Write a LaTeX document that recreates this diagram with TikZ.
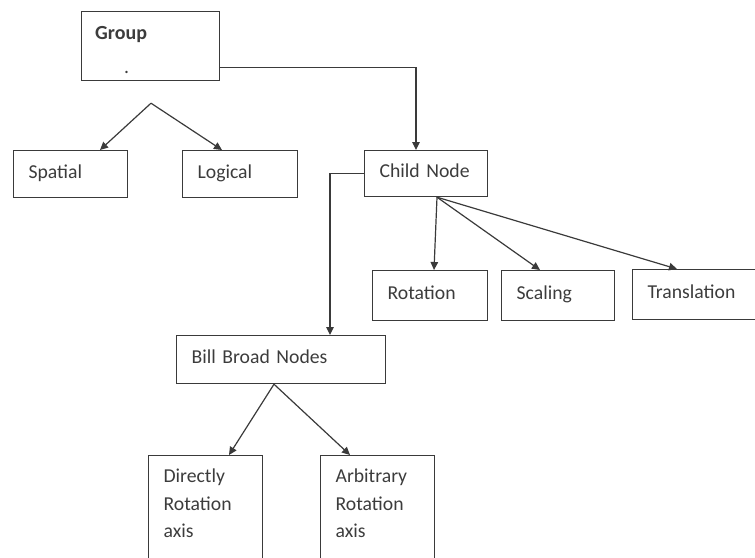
\documentclass[tikz,border=0pt]{standalone}
\usepackage{fontspec}
\setmainfont{Carlito}
\usetikzlibrary{arrows.meta}
\definecolor{linegray}{HTML}{3A3A3A}
\definecolor{textgray}{HTML}{3C3C3C}

\begin{document}
\begin{tikzpicture}[
    x=1pt, y=-1pt,
    font=\fontsize{19.7}{27.5}\selectfont,
    every node/.style={text=textgray},
    box/.style={draw=linegray, line width=1.2pt, rectangle, anchor=north west,
        inner xsep=15pt, inner ysep=0pt, align=left},
    oneline/.style={text height=14pt, text depth=6pt},
    threeline/.style={text height=14pt, text depth=64pt},
    arr/.style={draw=linegray, line width=1.2pt, -{Triangle[length=8pt,width=7.5pt]}}]
    \useasboundingbox (0,0) rectangle (755,557);
    % NODES
    % group box
    \node[box, minimum width=138pt, minimum height=69pt] (Group) at (81,11) {};
    \node[anchor=base west, inner sep=0pt, font=\fontsize{20}{27.5}\selectfont\bfseries] (GroupTxt) at ([xshift=14pt, yshift=-28.5pt]Group.north west) {Group};
    \node[anchor=base west, inner sep=0pt] (GroupDot) at ([xshift=43pt, yshift=-62.5pt]Group.north west) {.};
    % group kinds
    \node[box, oneline, minimum width=114pt, minimum height=47pt, text width=84pt] (Spatial) at (13,150) {Spatial};
    \node[box, oneline, minimum width=115pt, minimum height=47pt, text width=85pt] (Logical) at (182,150) {Logical};
    % child node
    \node[box, oneline, minimum width=123pt, minimum height=46pt, text width=93pt] (Child) at (364,150) {\mbox{Child Node}};
    % transforms
    \node[box, oneline, minimum width=115pt, minimum height=50pt, text width=85pt] (Rotation) at (372,270) {Rotation};
    \node[box, oneline, minimum width=113pt, minimum height=50pt, text width=83pt] (Scaling) at (501,270) {Scaling};
    \node[box, oneline, minimum width=128pt, minimum height=50pt, text width=98pt] (Translation) at (632,269) {Translation};
    % bill broad nodes
    \node[box, oneline, minimum width=209pt, minimum height=48pt, text width=179pt] (Bill) at (176,335) {Bill Broad Nodes};
    \node[box, threeline, minimum width=114pt, minimum height=104pt, text width=84pt] (Directly) at (148,455) {Directly\\Rotation\\axis};
    \node[box, threeline, minimum width=114pt, minimum height=104pt, text width=84pt] (Arbitrary) at (320,455) {Arbitrary\\Rotation\\axis};

    % ARROWS
    \coordinate (GroupSplit) at ([xshift=70pt, yshift=-22pt]Group.south west);
    \draw[arr] (GroupSplit) -- ([xshift=87pt]Spatial.north west);
    \draw[arr] (GroupSplit) -- ([xshift=40pt]Logical.north west);
    \draw[arr] ([yshift=-21.5pt]Group.east) -| ([xshift=52pt]Child.north west);
    \draw[arr] (Child.west) -| ([xshift=154pt]Bill.north west);
    \coordinate (ChildFoot) at ([xshift=73pt]Child.south west);
    \draw[arr] (ChildFoot) -- ([xshift=62pt]Rotation.north west);
    \draw[arr] (ChildFoot) -- ([xshift=39pt]Scaling.north west);
    \draw[arr] (ChildFoot) -- ([xshift=45pt]Translation.north west);
    \coordinate (BillFoot) at ([xshift=98pt]Bill.south west);
    \draw[arr] (BillFoot) -- ([xshift=81pt]Directly.north west);
    \draw[arr] (BillFoot) -- ([xshift=30pt]Arbitrary.north west);
  \end{tikzpicture}
\end{document}
